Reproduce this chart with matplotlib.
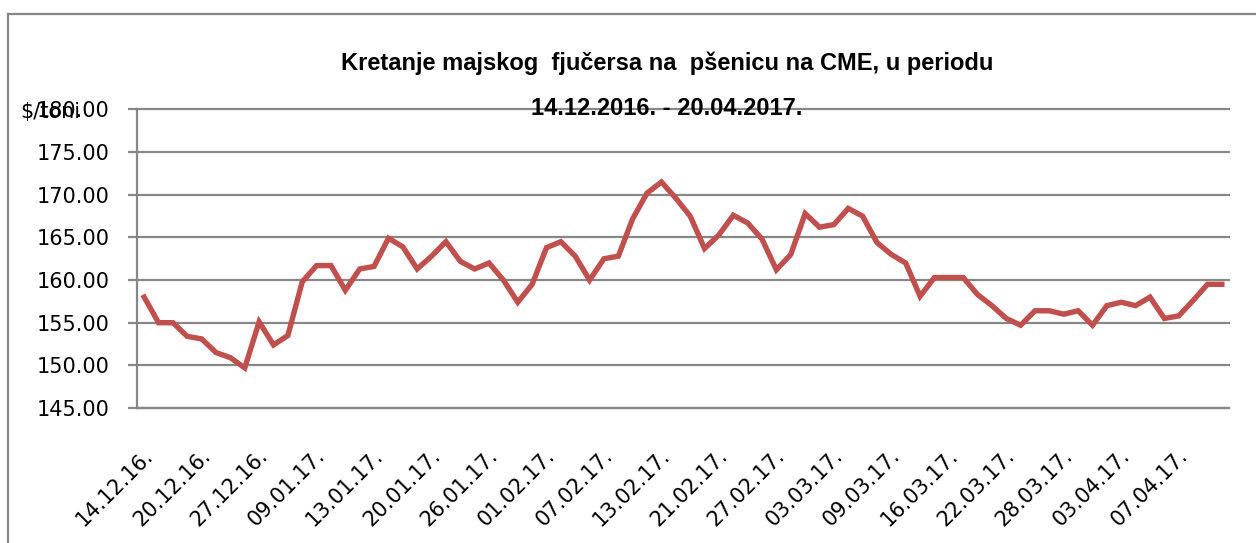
import matplotlib
matplotlib.use("Agg")
import matplotlib.pyplot as plt
import matplotlib.transforms as mtransforms
from matplotlib.lines import Line2D

# wheat futures (May contract), $/t, one value per trading day
prices = [
    158.0, 155.0, 155.0, 153.4, 153.1, 151.5, 150.9, 149.7, 155.1, 152.4,
    153.5, 159.8, 161.7, 161.7, 158.8, 161.3, 161.6, 164.9, 163.9, 161.3,
    162.8, 164.5, 162.2, 161.3, 162.0, 160.0, 157.4, 159.5, 163.8, 164.5,
    162.8, 160.0, 162.5, 162.8, 167.2, 170.2, 171.5, 169.6, 167.5, 163.7,
    165.3, 167.6, 166.7, 164.8, 161.2, 163.0, 167.8, 166.2, 166.5, 168.4,
    167.5, 164.4, 163.0, 162.0, 158.1, 160.3, 160.3, 160.3, 158.3, 157.0,
    155.5, 154.7, 156.4, 156.4, 156.0, 156.4, 154.7, 157.0, 157.4, 157.0,
    158.0, 155.5, 155.8, 157.6, 159.5, 159.5,
]
date_labels = [
    "14.12.16.", "20.12.16.", "27.12.16.", "09.01.17.", "13.01.17.",
    "20.01.17.", "26.01.17.", "01.02.17.", "07.02.17.", "13.02.17.",
    "21.02.17.", "27.02.17.", "03.03.17.", "09.03.17.", "16.03.17.",
    "22.03.17.", "28.03.17.", "03.04.17.", "07.04.17.",
]
label_step = 4
y_ticks = [145, 150, 155, 160, 165, 170, 175, 180]

title_1 = "Kretanje majskog  fjučersa na  pšenicu na CME, u periodu"
title_2 = "14.12.2016. - 20.04.2017."
unit = "$/toni"

grid_col = "#878787"
line_col = "#C0504D"
title_font = ["Liberation Sans", "DejaVu Sans"]

fig = plt.figure(figsize=(12.56, 5.43), dpi=100)
fig.patch.set_facecolor("white")

# outer chart border (runs off the right and bottom edge)
W, H = 1256, 543
fig.add_artist(Line2D([8 / W, 1.0], [1 - 14 / H, 1 - 14 / H], color=grid_col, lw=1.6))
fig.add_artist(Line2D([8 / W, 8 / W], [0.0, 1 - 14 / H], color=grid_col, lw=1.6))

ax = fig.add_axes([137 / W, 1 - 408 / H, (1229 - 137) / W, (408 - 109.5) / H])

x = list(range(len(prices)))
ax.plot(x, prices, color=line_col, lw=3.9, solid_joinstyle="miter", zorder=3)

ax.set_xlim(-0.5, len(prices) - 0.5)
ax.set_ylim(145, 180)
ax.set_yticks(y_ticks)
ax.set_yticklabels([f"{v:.2f}" for v in y_ticks])
ax.yaxis.grid(True, color=grid_col, lw=1.6)
ax.set_axisbelow(True)
for gl in ax.yaxis.get_gridlines():
    gl.set_clip_on(False)

ax.tick_params(axis="y", length=6.5, width=1.6, color=grid_col, pad=13,
               labelsize=15, labelcolor="black")
ax.set_xticks(x[::label_step])
ax.set_xticklabels(date_labels, rotation=45, ha="right", va="center",
                   rotation_mode="anchor", fontsize=15)
ax.tick_params(axis="x", length=0, pad=32)
shift = mtransforms.ScaledTranslation(4 / 72, 0, fig.dpi_scale_trans)
for lbl in ax.get_xticklabels():
    lbl.set_transform(lbl.get_transform() + shift)

for side in ["top", "right"]:
    ax.spines[side].set_visible(False)
for side in ["left", "bottom"]:
    ax.spines[side].set_color(grid_col)
    ax.spines[side].set_linewidth(1.6)

fig.text(667 / W, 1 - 70 / H, title_1, ha="center", va="baseline",
         fontsize=17, fontweight="bold", family=title_font)
fig.text(667 / W, 1 - 115 / H, title_2, ha="center", va="baseline",
         fontsize=17, fontweight="bold", family=title_font, zorder=5)
fig.text(20 / W, 1 - 118 / H, unit, ha="left", va="baseline", fontsize=15)

fig.savefig("out.png", dpi=100, facecolor="white")
